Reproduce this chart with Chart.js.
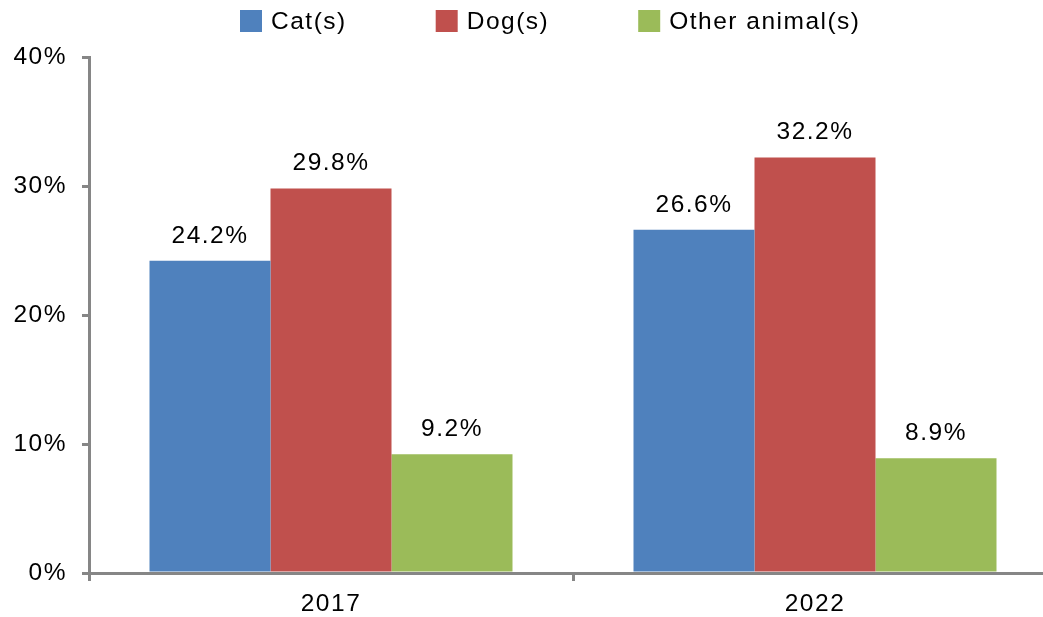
<!DOCTYPE html>
<html>
<head>
<meta charset="utf-8">
<script src="https://cdn.jsdelivr.net/npm/chart.js@4/dist/chart.umd.min.js"></script>
<style>
	html, body { margin: 0; padding: 0; background: #fff; overflow: hidden; }
	#wrap { width: 1043px; height: 617px; overflow: hidden; }
	canvas { display: block; }
</style>
</head>
<body>
<div id="wrap"><canvas id="chartjs-canvas" width="1057" height="617"></canvas></div>
<script>
const years = ['2017', '2022'];
const cats = [24.2, 26.6];
const dogs = [29.8, 32.2];
const others = [9.2, 8.9];
const yTicks = [0, 10, 20, 30, 40];

const FONT = '"Liberation Sans", Arial, sans-serif';
const FONT_SIZE = 24.5;
const SPACING = '1.5px';
const AXIS_GREY = '#868686';

// slightly wider lettering for every text on the canvas
const wideText = {
	id: 'wideText',
	beforeLayout: chart => { chart.ctx.letterSpacing = SPACING; },
	beforeDraw: chart => { chart.ctx.letterSpacing = SPACING; }
};

// value labels above every bar
const barValues = {
	id: 'barValues',
	afterDatasetsDraw: chart => {
		const ctx = chart.ctx;
		ctx.save();
		ctx.letterSpacing = SPACING;
		ctx.font = `${FONT_SIZE}px ${FONT}`;
		ctx.fillStyle = '#000';
		ctx.textAlign = 'center';
		ctx.textBaseline = 'middle';
		chart.data.datasets.forEach((ds, i) => {
			chart.getDatasetMeta(i).data.forEach((bar, j) => {
				ctx.fillText(`${ds.data[j].toFixed(1)}%`, bar.x, bar.y - 25);
			});
		});
		ctx.restore();
	}
};

// legend row across the top, squares then names
const topLegend = {
	id: 'topLegend',
	afterDraw: chart => {
		const ctx = chart.ctx;
		const box = 22, gap = 9, spacing = 89, centerX = 550, boxTop = 10;
		ctx.save();
		ctx.letterSpacing = SPACING;
		ctx.font = `${FONT_SIZE}px ${FONT}`;
		ctx.textBaseline = 'middle';
		ctx.textAlign = 'left';
		const items = chart.data.datasets.map(ds => ({
			text: ds.label,
			color: ds.backgroundColor,
			width: box + gap + ctx.measureText(ds.label).width
		}));
		const total = items.reduce((sum, it) => sum + it.width, 0) + spacing * (items.length - 1);
		let x = Math.round(centerX - total / 2);
		items.forEach(it => {
			ctx.fillStyle = it.color;
			ctx.fillRect(x, boxTop, box, box);
			ctx.fillStyle = '#000';
			ctx.fillText(it.text, x + box + gap, boxTop + box / 2 + 1);
			x += it.width + spacing;
		});
		ctx.restore();
	}
};

const data = {
	labels: years,
	datasets: [
		{ label: 'Cat(s)', data: cats, backgroundColor: '#4F81BD' },
		{ label: 'Dog(s)', data: dogs, backgroundColor: '#C0504D' },
		{ label: 'Other animal(s)', data: others, backgroundColor: '#9BBB59' }
	]
};

const config = {
	type: 'bar',
	data,
	options: {
		responsive: false,
		animation: false,
		layout: { padding: { top: 57, left: 0, right: 0, bottom: 0 } },
		datasets: {
			bar: {
				borderWidth: 0,
				categoryPercentage: 0.75,
				barPercentage: 1
			}
		},
		plugins: {
			legend: { display: false },
			tooltip: { enabled: false },
			title: { display: false }
		},
		scales: {
			x: {
				afterFit: scale => { scale.height = 44; },
				border: { color: AXIS_GREY, width: 3 },
				grid: {
					offset: true,
					drawOnChartArea: false,
					drawTicks: true,
					tickLength: 8,
					color: AXIS_GREY,
					lineWidth: 3
				},
				ticks: {
					color: '#000',
					padding: 9,
					font: { family: FONT, size: FONT_SIZE }
				}
			},
			y: {
				min: yTicks[0],
				max: yTicks[yTicks.length - 1],
				afterFit: scale => { scale.width = 89; },
				afterBuildTicks: scale => { scale.ticks = yTicks.map(v => ({ value: v })); },
				border: { color: AXIS_GREY, width: 3 },
				grid: {
					drawOnChartArea: false,
					drawTicks: true,
					tickLength: 7,
					color: AXIS_GREY,
					lineWidth: 3
				},
				ticks: {
					color: '#000',
					padding: 15,
					font: { family: FONT, size: FONT_SIZE },
					callback: value => `${value}%`
				}
			}
		}
	},
	plugins: [wideText, barValues, topLegend]
};

new Chart(document.getElementById('chartjs-canvas'), config);
</script>
</body>
</html>
